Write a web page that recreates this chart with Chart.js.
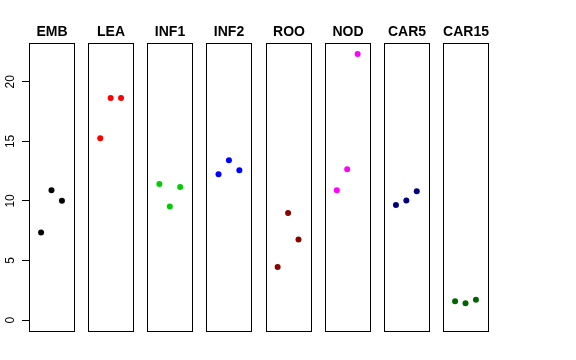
<!DOCTYPE html>
<html lang="en">
<head>
  <meta charset="UTF-8">
  <title>Panels</title>
  <script src="https://cdn.jsdelivr.net/npm/chart.js"></script>
  <style>
    body { margin: 0; background: #fff; }
    canvas { display: block; }
  </style>
</head>
<body>
  <canvas id="panels" width="576" height="360"></canvas>

  <script>
    // one panel per tissue, three replicates each
    const categories = ['EMB', 'LEA', 'INF1', 'INF2', 'ROO', 'NOD', 'CAR5', 'CAR15'];
    const colors = ['#000000', '#FF0000', '#00CD00', '#0000FF', '#8B0000', '#FF00FF', '#000080', '#006400'];
    const EMB = [7.36, 10.9, 10.01];
    const LEA = [15.27, 18.65, 18.65];
    const INF1 = [11.43, 9.53, 11.16];
    const INF2 = [12.25, 13.42, 12.58];
    const ROO = [4.45, 8.98, 6.77];
    const NOD = [10.9, 12.67, 22.34];
    const CAR5 = [9.65, 10.04, 10.82];
    const CAR15 = [1.57, 1.40, 1.70];
    const values = [EMB, LEA, INF1, INF2, ROO, NOD, CAR5, CAR15];
    const yTicks = [0, 5, 10, 15, 20];

    // each panel spans x in [-0.16, 4.16], panels placed side by side
    const W = 4.32;
    const STEP = 5.678;
    const panelStart = i => i * STEP;

    const datasets = categories.map((name, i) => ({
      label: name,
      data: values[i].map((v, j) => ({ x: panelStart(i) + 0.16 + (j + 1), y: v })),
      backgroundColor: colors[i],
      borderWidth: 0,
      pointRadius: 3,
      pointHoverRadius: 3
    }));

    const panelPlugin = {
      id: 'panels',
      beforeDatasetsDraw(chart) {
        const ctx = chart.ctx;
        const xs = chart.scales.x;
        const area = chart.chartArea;
        ctx.save();
        ctx.strokeStyle = '#000';
        ctx.lineWidth = 1;
        categories.forEach((name, i) => {
          const l = Math.round(xs.getPixelForValue(panelStart(i))) + 0.5;
          const r = Math.round(xs.getPixelForValue(panelStart(i) + W)) + 0.5;
          const t = Math.round(area.top) + 0.5;
          const b = Math.round(area.bottom) + 0.5;
          ctx.strokeRect(l, t, r - l, b - t);
          ctx.fillStyle = '#000';
          ctx.font = 'bold 14px "Liberation Sans", Arial, sans-serif';
          ctx.textAlign = 'center';
          ctx.textBaseline = 'alphabetic';
          ctx.fillText(name, (l + r) / 2, 35.5);
        });
        // rotated y tick labels
        const ys = chart.scales.y;
        ctx.font = '12px "Liberation Sans", Arial, sans-serif';
        ctx.textAlign = 'center';
        ctx.textBaseline = 'alphabetic';
        yTicks.forEach(v => {
          ctx.save();
          ctx.translate(13.5, ys.getPixelForValue(v));
          ctx.rotate(-Math.PI / 2);
          ctx.fillText(String(v), 0, 0);
          ctx.restore();
        });
        ctx.restore();
      }
    };

    new Chart(document.getElementById('panels'), {
      type: 'scatter',
      data: { datasets: datasets },
      options: {
        responsive: false,
        animation: false,
        layout: { padding: { left: 0, right: 88, top: 43, bottom: 29 } },
        plugins: { legend: { display: false }, tooltip: { enabled: false } },
        scales: {
          x: {
            type: 'linear',
            min: 0,
            max: 7 * STEP + W,
            display: false
          },
          y: {
            type: 'linear',
            min: -0.92,
            max: 23.26,
            afterBuildTicks: axis => { axis.ticks = yTicks.map(v => ({ value: v })); },
            afterFit: axis => { axis.width = 29; },
            ticks: { display: false },
            grid: { drawOnChartArea: false, tickLength: 7, color: '#000' },
            border: { display: false }
          }
        }
      },
      plugins: [panelPlugin]
    });
  </script>
</body>
</html>
